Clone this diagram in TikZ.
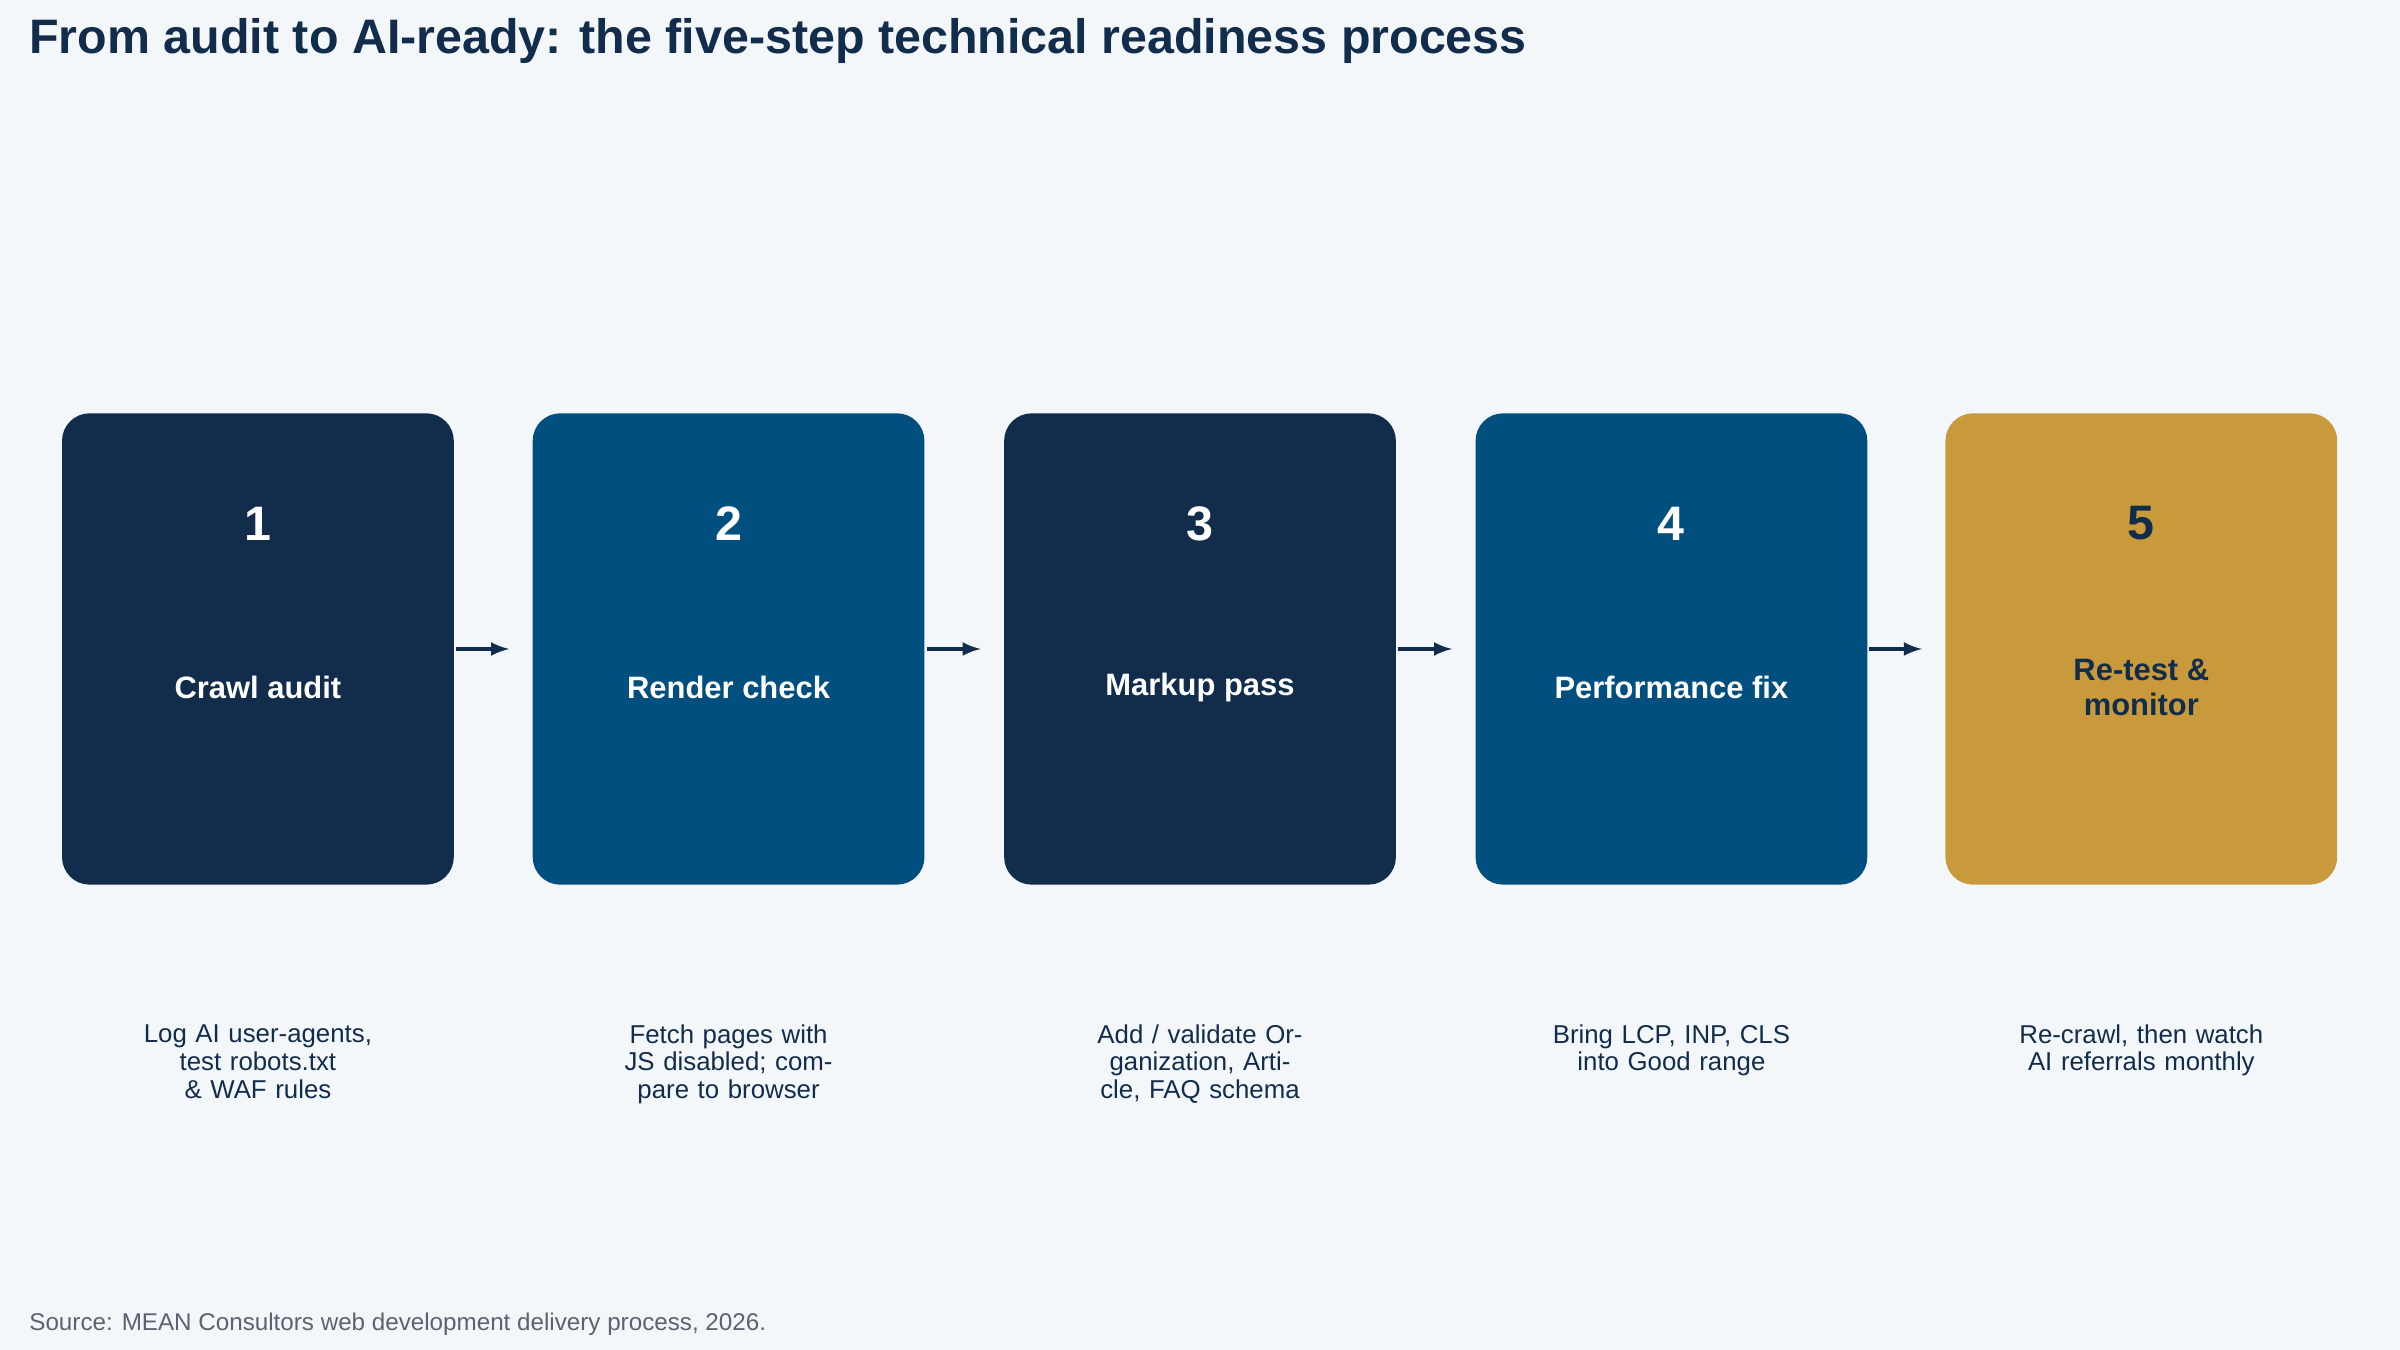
\documentclass[tikz,border=0pt]{standalone}
\usepackage{fontspec}
\setmainfont{Liberation Sans}
\usetikzlibrary{positioning}
\definecolor{navy}{HTML}{122C4C}
\definecolor{steel}{HTML}{004F7F}
\definecolor{gold}{HTML}{C99A3C}
\definecolor{bg}{HTML}{F3F7FA}
\definecolor{srcgray}{HTML}{5C6270}
\tikzset{stepbox/.style={rounded corners=0.36cm,minimum width=5.12cm,minimum height=6.16cm,inner sep=0pt},
	 num/.style={font=\bfseries\fontsize{18}{20}\selectfont},
	 lbl/.style={font=\bfseries\fontsize{11.5}{13}\selectfont,align=center},
	 desc/.style={font=\fontsize{9.6}{10.4}\selectfont,text=navy,align=center,text width=3.6cm,anchor=north},
	 flow/.style={draw=navy,line width=1.3pt,-latex}
	 }
\begin{document}
\begin{tikzpicture}[x=0.02cm,y=-0.02cm]
	\fill[bg] (0,0) rectangle (1568,882);
	\useasboundingbox (0,0) rectangle (1568,882);
	\node[anchor=west,text=navy,font=\bfseries\fontsize{18}{20}\selectfont] (title) at (13,27) {From audit to AI-ready: the five-step technical readiness process};
	\node[stepbox,fill=navy] (s1) at (168.5,424) {};
	\node[stepbox,fill=steel] (s2) at (476,424) {};
	\node[stepbox,fill=navy] (s3) at (784,424) {};
	\node[stepbox,fill=steel] (s4) at (1092,424) {};
	\node[stepbox,fill=gold] (s5) at (1399,424) {};
	\node[num,text=white] (n1) at (168.5,342) {1};
	\node[num,text=white] (n2) at (476,342) {2};
	\node[num,text=white] (n3) at (784,342) {3};
	\node[num,text=white] (n4) at (1092,342) {4};
	\node[num,text=navy] (n5) at (1399,342) {5};
	\node[lbl,text=white] (l1) at (168.5,449) {Crawl audit};
	\node[lbl,text=white] (l2) at (476,449) {Render check};
	\node[lbl,text=white] (l3) at (784,449) {Markup pass};
	\node[lbl,text=white] (l4) at (1092,449) {Performance fix};
	\node[lbl,text=navy] (l5) at (1399,449) {Re-test \&\\monitor};
	\node[desc] (d1) at (168.5,663) {Log AI user-agents, test robots.txt \& WAF rules};
	\node[desc] (d2) at (476,663) {Fetch pages with JS disabled; compare to browser};
	\node[desc] (d3) at (784,663) {Add / validate Organization, Article, FAQ schema};
	\node[desc] (d4) at (1092,663) {Bring LCP, INP, CLS into Good range};
	\node[desc] (d5) at (1399,663) {Re-crawl, then watch AI referrals monthly};
	\draw[flow] ([xshift=0.02cm]s1.east) -- ([xshift=-0.3cm]s2.west);
	\draw[flow] ([xshift=0.02cm]s2.east) -- ([xshift=-0.3cm]s3.west);
	\draw[flow] ([xshift=0.02cm]s3.east) -- ([xshift=-0.3cm]s4.west);
	\draw[flow] ([xshift=0.02cm]s4.east) -- ([xshift=-0.3cm]s5.west);
	\node[anchor=west,text=srcgray,font=\fontsize{9}{10}\selectfont] (src) at (13,865) {Source: MEAN Consultors web development delivery process, 2026.};
\end{tikzpicture}
\end{document}
